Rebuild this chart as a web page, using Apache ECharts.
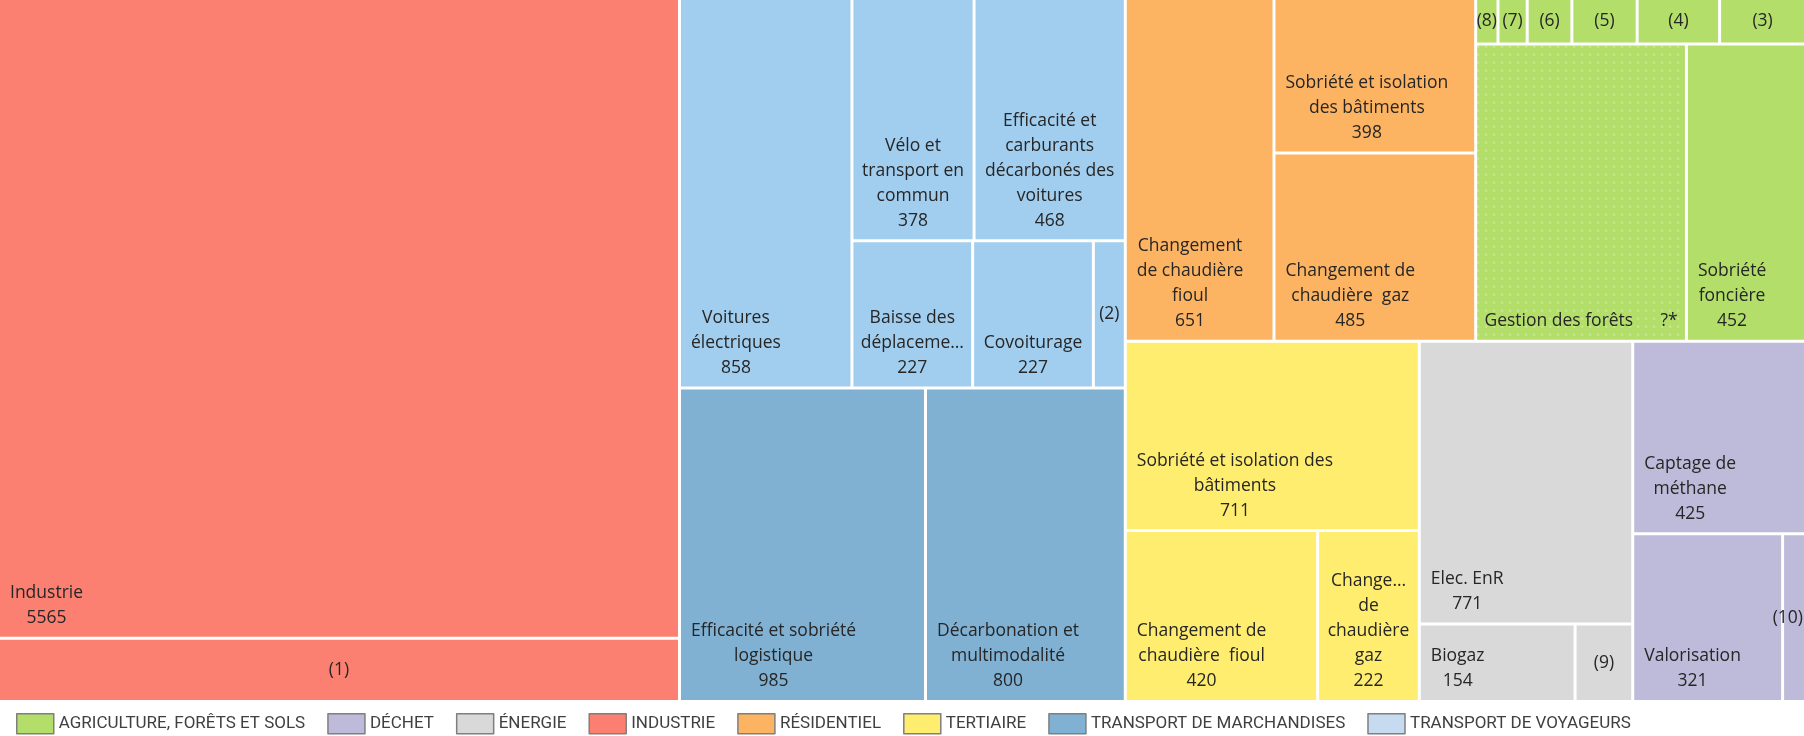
<!DOCTYPE html>
<html>
<head>
<meta charset="utf-8">
<title>Leviers de réduction des émissions</title>
<script src="https://cdn.jsdelivr.net/npm/echarts@6/dist/echarts.min.js"></script>
<style>
  html, body { margin: 0; padding: 0; background: #fff; }
  #chart { width: 1804px; height: 736px; }
</style>
</head>
<body>
<div id="chart"></div>
<script>
// secteurs, dans l'ordre de la légende
const sectors = ['AGRICULTURE, FORÊTS ET SOLS', 'DÉCHET', 'ÉNERGIE', 'INDUSTRIE', 'RÉSIDENTIEL', 'TERTIAIRE', 'TRANSPORT DE MARCHANDISES', 'TRANSPORT DE VOYAGEURS'];
const sectorColors = ['#B3DE69', '#BEBADA', '#D9D9D9', '#FB8072', '#FDB462', '#FFED6F', '#80B1D3', '#A1CDEE'];
const legendColors = ['#B3DE69', '#BEBADA', '#D9D9D9', '#FB8072', '#FDB462', '#FFED6F', '#80B1D3', '#C6DBEF'];

// leviers de chaque secteur (ordre de pose dans le treemap)
const industrieNames = ['Industrie', '(1)'];
const industrieValues = [5565, 550];

const voyageursNames = ['Voitures\nélectriques', 'Vélo et\ntransport en\ncommun', 'Efficacité et\ncarburants\ndécarbonés des\nvoitures', 'Baisse des\ndéplacements', 'Covoiturage', '(2)'];
const voyageursValues = [858, 378, 468, 227, 227, 60];

const marchandisesNames = ['Efficacité et sobriété\nlogistique', 'Décarbonation et\nmultimodalité'];
const marchandisesValues = [985, 800];

const residentielNames = ['Changement\nde chaudière\nfioul', 'Sobriété et isolation\ndes bâtiments', 'Changement de\nchaudière  gaz'];
const residentielValues = [651, 398, 485];

// "Gestion des forêts" : valeur non chiffrée (?*), surface estimée sur l'image
const agricultureNames = ['(8)', '(7)', '(6)', '(5)', '(4)', '(3)', 'Gestion des forêts', 'Sobriété\nfoncière'];
const agricultureValues = [13, 17, 26, 38, 48, 50, 800, 452];
const unknownValues = ['Gestion des forêts'];

const tertiaireNames = ['Sobriété et isolation des\nbâtiments', 'Changement de\nchaudière  fioul', 'Changement\nde\nchaudière\ngaz'];
const tertiaireValues = [711, 420, 222];

const energieNames = ['Elec. EnR', 'Biogaz', '(9)'];
const energieValues = [771, 154, 57];

const dechetNames = ['Captage de\nméthane', 'Valorisation', '(10)'];
const dechetValues = [425, 321, 49];

const LABEL_FONT = 'Open Sans';
const LABEL_SIZE = 17.5;
const PAD = 10;
const PAD_BOTTOM = 6;

function isNote(s) {
  return /^\(\d+\)$/.test(s);
}

function sectorNode(idx, names, values) {
  const color = sectorColors[idx];
  return {
    name: sectors[idx],
    itemStyle: { color: color },
    children: names.map(function (n, i) {
      const leaf = { name: n, value: values[i], itemStyle: { color: color } };
      if (isNote(n)) leaf.label = { overflow: 'none' };
      if (unknownValues.indexOf(n) >= 0) {
        leaf.itemStyle.decal = {
          symbol: 'circle',
          symbolSize: 1,
          dashArrayX: [2, 6],
          dashArrayY: [2, 6],
          color: 'rgba(255,255,255,0.45)'
        };
      }
      return leaf;
    })
  };
}

// ordre décroissant des secteurs, comme dans l'original
const tree = [
  sectorNode(3, industrieNames, industrieValues),
  sectorNode(7, voyageursNames, voyageursValues),
  sectorNode(6, marchandisesNames, marchandisesValues),
  sectorNode(4, residentielNames, residentielValues),
  sectorNode(0, agricultureNames, agricultureValues),
  sectorNode(5, tertiaireNames, tertiaireValues),
  sectorNode(2, energieNames, energieValues),
  sectorNode(1, dechetNames, dechetValues)
];

const sectorTotals = sectors.map(function (s) {
  const node = tree.find(function (t) { return t.name === s; });
  return node.children.reduce(function (a, c) { return a + c.value; }, 0);
});

function labelText(p) {
  if (isNote(p.name)) return p.name;
  if (unknownValues.indexOf(p.name) >= 0) return p.name + '      ?*';
  return p.name + '\n' + p.value;
}

// bloc de texte en bas à gauche, lignes centrées entre elles
const measure = document.createElement('canvas').getContext('2d');
measure.font = LABEL_SIZE + 'px "' + LABEL_FONT + '"';
function blockWidth(text) {
  return Math.max.apply(null, text.split('\n').map(function (l) {
    return measure.measureText(l).width;
  }));
}

const CHART_W = 1804;

function placeLabel(p) {
  const r = p.rect;
  const w = blockWidth(p.text);
  if (isNote(p.text)) {
    // les renvois restent dans le cadre du graphique
    const cx = Math.min(r.x + r.width / 2, CHART_W - w / 2 - 1);
    return { x: cx, y: r.y + r.height / 2, align: 'center', verticalAlign: 'middle' };
  }
  const room = r.width - 2 * PAD;
  const x = w < room ? r.x + PAD + w / 2 : r.x + r.width / 2;
  return { x: x, y: r.y + r.height - PAD_BOTTOM, align: 'center', verticalAlign: 'bottom' };
}

const chart = echarts.init(document.getElementById('chart'));
chart.setOption({
  animation: false,
  legend: {
    data: sectors,
    left: 16,
    top: 713,
    padding: 0,
    icon: 'rect',
    itemWidth: 37,
    itemHeight: 20,
    itemGap: 22,
    selectedMode: false,
    itemStyle: { borderColor: '#7f7f7f', borderWidth: 1.5 },
    textStyle: { fontFamily: 'Roboto', fontSize: 17, color: '#404040' }
  },
  series: [
    {
      type: 'treemap',
      left: 0,
      top: 0,
      width: CHART_W,
      height: 700,
      roam: false,
      nodeClick: false,
      breadcrumb: { show: false },
      sort: false,
      squareRatio: 0.89,
      visibleMin: 0,
      label: {
        show: true,
        formatter: labelText,
        fontFamily: LABEL_FONT,
        fontSize: LABEL_SIZE,
        lineHeight: 25,
        color: '#262626',
        overflow: 'truncate',
        ellipsis: '…',
        padding: [0, 6, 0, 6]
      },
      upperLabel: { show: false },
      itemStyle: { borderWidth: 0, gapWidth: 3, borderColor: '#fff' },
      levels: [
        { itemStyle: { borderWidth: 0, gapWidth: 3, borderColor: '#fff' } },
        { itemStyle: { borderWidth: 0, gapWidth: 3, borderColor: '#fff' } },
        { itemStyle: { borderWidth: 0, gapWidth: 0 } }
      ],
      labelLayout: placeLabel,
      data: tree
    },
    {
      // série vide : sert seulement à porter la légende des secteurs
      type: 'pie',
      radius: [0, 0],
      center: [-50, -50],
      silent: true,
      label: { show: false },
      labelLine: { show: false },
      data: sectors.map(function (s, i) {
        return { name: s, value: sectorTotals[i], itemStyle: { color: legendColors[i] } };
      })
    }
  ]
});
</script>
</body>
</html>
